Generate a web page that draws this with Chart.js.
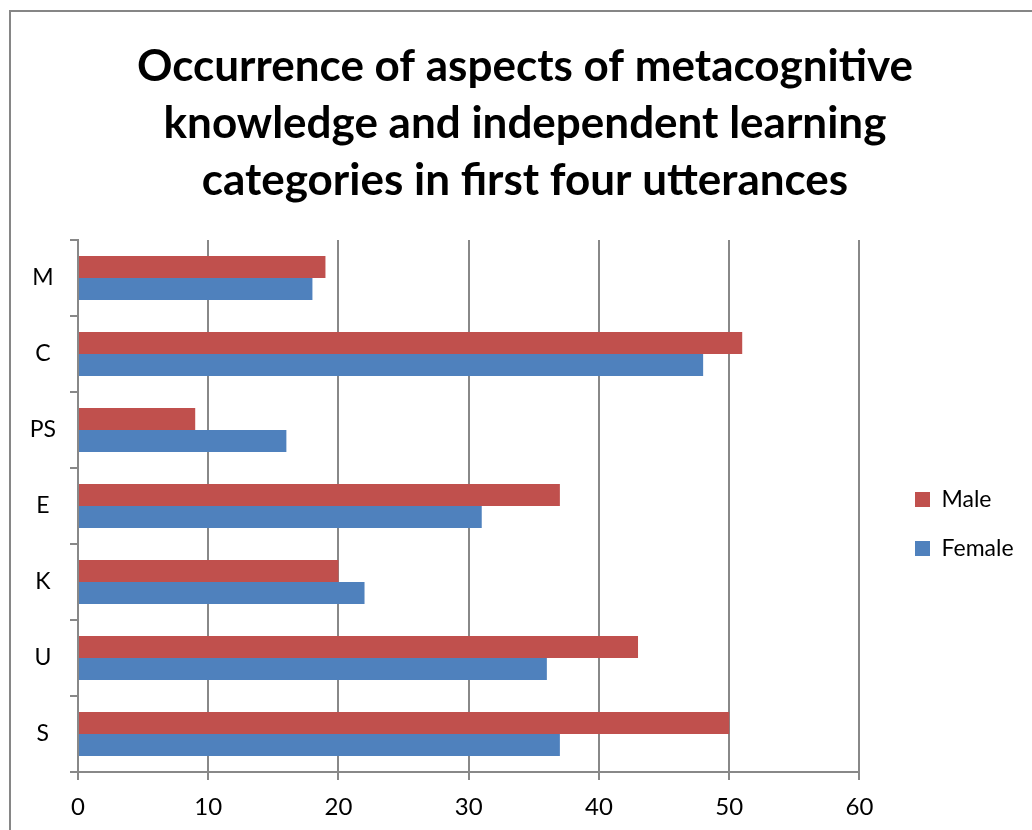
<!DOCTYPE html>
<html>
<head>
<meta charset="utf-8">
<script src="https://cdn.jsdelivr.net/npm/chart.js@4"></script>
<style>
html,body{margin:0;padding:0;background:#fff;}
#wrap{position:relative;width:1032px;height:830px;}
canvas{display:block;}
</style>
</head>
<body>
<div id="wrap"><canvas id="c" width="1032" height="830"></canvas></div>
<script>
const categories = ['M', 'C', 'PS', 'E', 'K', 'U', 'S'];
const maleValues = [19, 51, 9, 37, 20, 43, 50];
const femaleValues = [18, 48, 16, 31, 22, 36, 37];
const seriesNames = ['Male', 'Female'];
const xTicks = [0, 10, 20, 30, 40, 50, 60];
const titleLines = ['Occurrence of aspects of metacognitive', 'knowledge and independent learning', 'categories in first four utterances'];

const FONT = 'Lato, "Open Sans", sans-serif';

const borderPlugin = {
  id: 'outerBorder',
  beforeDraw(chart) {
    const ctx = chart.ctx;
    ctx.save();
    ctx.fillStyle = '#ffffff';
    ctx.fillRect(0, 0, chart.width, chart.height);
    ctx.strokeStyle = '#868686';
    ctx.lineWidth = 2;
    ctx.strokeRect(10, 11, 1100, 1100);
    ctx.restore();
  },
  afterLayout(chart) {
    const l = chart.legend;
    if (l) {
      const dx = 915 - (chart.chartArea.right + l.options.labels.padding);
      l.left += dx; l.right += dx;
    }
    const t = chart.titleBlock;
    if (t) {
      const tdx = 525 - (t.left + t.right) / 2;
      t.left += tdx; t.right += tdx;
    }
  }
};

new Chart(document.getElementById('c'), {
  type: 'bar',
  data: {
    labels: categories,
    datasets: [
      { label: seriesNames[0], data: maleValues, backgroundColor: '#C0504D', borderWidth: 0 },
      { label: seriesNames[1], data: femaleValues, backgroundColor: '#4F81BD', borderWidth: 0 }
    ]
  },
  options: {
    indexAxis: 'y',
    responsive: false,
    animation: false,
    devicePixelRatio: 1,
    layout: { padding: { left: 10, right: 38, top: 0, bottom: 0 } },
    datasets: { bar: { categoryPercentage: 0.58, barPercentage: 1.0 } },
    plugins: {
      title: {
        display: true,
        text: titleLines,
        color: '#000',
        font: { family: FONT, size: 44, weight: 'bold', lineHeight: 57 / 44 },
        padding: { top: 38, bottom: 31 }
      },
      legend: {
        position: 'right',
        fullSize: false,
        title: { display: true, text: ' ', font: { size: 10, lineHeight: 1.2 }, padding: { top: 12, bottom: 12 } },
        labels: {
          color: '#000',
          font: { family: FONT, size: 23 },
          boxWidth: 15,
          boxHeight: 15,
          padding: 26
        }
      },
      tooltip: { enabled: false }
    },
    scales: {
      x: {
        min: 0, max: 60,
        afterBuildTicks(scale) { scale.ticks = xTicks.map(v => ({ value: v })); },
        afterFit(scale) { scale.height = 58; },
        grid: { color: '#888888', lineWidth: 2, tickLength: 8, drawTicks: true },
        border: { color: '#888888', width: 2 },
        ticks: { color: '#000', font: { family: FONT, size: 24 }, padding: 13 }
      },
      y: {
        offset: true,
        afterFit(scale) { scale.width = 68; },
        grid: { offset: true, drawOnChartArea: false, color: '#888888', lineWidth: 2, tickLength: 8 },
        border: { color: '#888888', width: 2 },
        ticks: { color: '#000', font: { family: FONT, size: 23 }, padding: 14, crossAlign: 'center' }
      }
    }
  },
  plugins: [borderPlugin]
});
</script>
</body>
</html>
